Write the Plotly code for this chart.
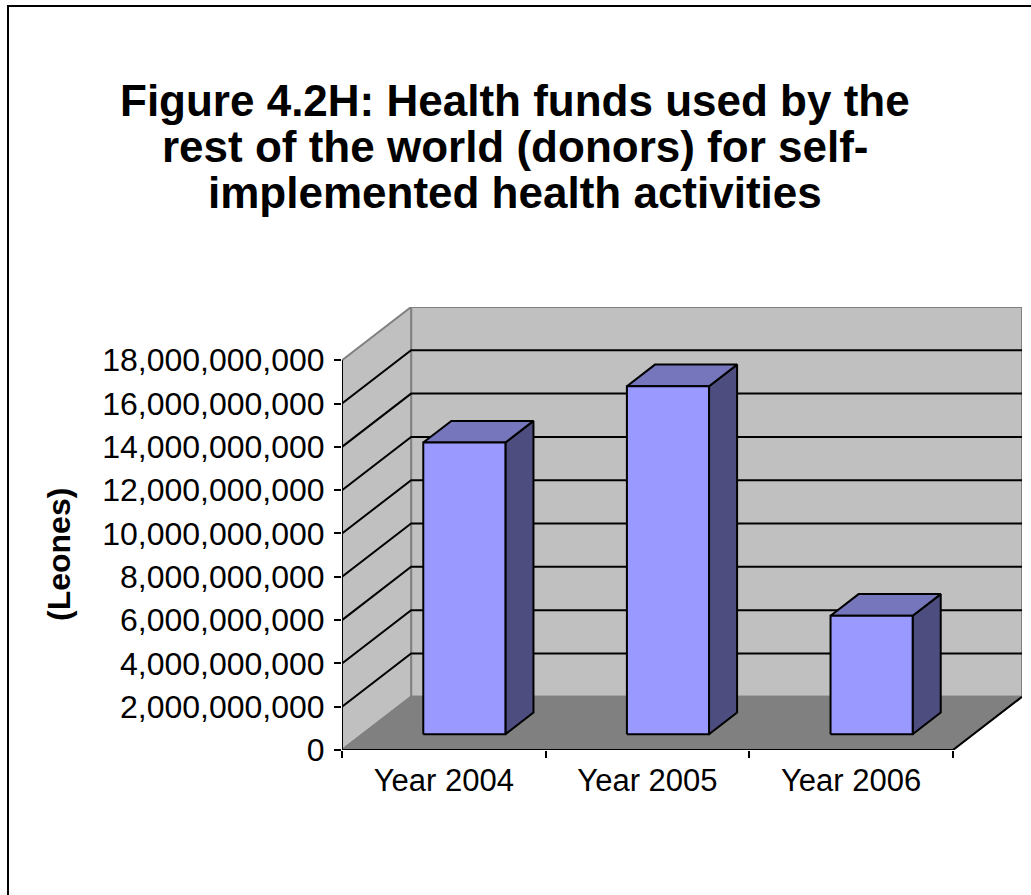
import plotly.graph_objects as go

# ---- data -------------------------------------------------------------
categories = ["Year 2004", "Year 2005", "Year 2006"]
funds_leones = [13.47e9, 16.07e9, 5.47e9]
tick_values = [i * 2e9 for i in range(10)]
tick_labels = [f"{v:,.0f}" for v in tick_values]

title_lines = [
    "Figure 4.2H: Health funds used by the",
    "rest of the world (donors) for self-",
    "implemented health activities",
]
y_title = "(Leones)"

# ---- 3-D box projection, expressed in axis units ---------------------
N = len(categories)
Y_TOP = tick_values[-1]
DX = 0.3394          # depth shift along the category axis
DY = 2.46e9          # depth shift along the value axis
BAR_W = 0.4033       # bar width (fraction of a category slot)
BAR_FRONT = 0.297    # depth fraction where the bar's front face sits
BAR_DEPTH = 0.406    # depth fraction occupied by the bar

FONT = "Liberation Sans, Arial, sans-serif"
WALL = "#C0C0C0"
FLOOR = "#808080"
EDGE = "#808080"
FRONT_C = "#9999FF"
TOP_C = "#7676BC"
SIDE_C = "#4D4D80"


def poly(xs, ys, fill, line, width):
    return go.Scatter(
        x=list(xs) + [xs[0]], y=list(ys) + [ys[0]],
        mode="lines", fill="toself", fillcolor=fill,
        line=dict(color=line, width=width),
        hoverinfo="skip", showlegend=False,
    )


def path(xs, ys, color, width):
    return go.Scatter(
        x=xs, y=ys, mode="lines", line=dict(color=color, width=width),
        hoverinfo="skip", showlegend=False,
    )


traces = []
# back wall, side wall, floor
traces.append(poly([DX, N + DX, N + DX, DX], [DY, DY, Y_TOP + DY, Y_TOP + DY], WALL, EDGE, 2))
traces.append(poly([0, DX, DX, 0], [0, DY, Y_TOP + DY, Y_TOP], WALL, EDGE, 2))
traces.append(poly([0, N, N + DX, DX], [0, 0, DY, DY], FLOOR, EDGE, 2))

# gridlines running across side wall and back wall
gx, gy = [], []
for v in tick_values[1:-1]:
    gx += [0, DX, N + DX, None]
    gy += [v, v + DY, v + DY, None]
traces.append(path(gx, gy, "black", 2))

# value axis line and front/right edges of the floor
traces.append(path([0, 0], [0, Y_TOP], "black", 2))
traces.append(path([0, N, N + DX], [0, 0, DY], "black", 2))

# bars
bx, by = BAR_DEPTH * DX, BAR_DEPTH * DY
for i, v in enumerate(funds_leones):
    x0 = i + 0.5 - BAR_W / 2 + BAR_FRONT * DX
    x1 = x0 + BAR_W
    yb = BAR_FRONT * DY
    traces.append(poly([x1, x1 + bx, x1 + bx, x1],
                       [yb, yb + by, yb + v + by, yb + v], SIDE_C, "black", 2))
    traces.append(poly([x0, x1, x1 + bx, x0 + bx],
                       [yb + v, yb + v, yb + v + by, yb + v + by], TOP_C, "black", 2))
    traces.append(poly([x0, x1, x1, x0],
                       [yb, yb, yb + v, yb + v], FRONT_C, "black", 2))

fig = go.Figure(traces)

W, H = 1031, 895
ML, MR, MT, MB = 342, 9, 307, 145
PW, PH = W - ML - MR, H - MT - MB


def px_to_paper(px, py):
    return (px - ML) / PW, (H - MB - py) / PH


annotations = []
for line, py in zip(title_lines, [100, 146, 192]):
    ax, ay = px_to_paper(515, py)
    annotations.append(dict(
        text=f"<b>{line}</b>", xref="paper", yref="paper", x=ax, y=ay,
        xanchor="center", yanchor="middle", showarrow=False,
        font=dict(family=FONT, size=44, color="black"),
    ))
ax, ay = px_to_paper(59, 555)
annotations.append(dict(
    text=f"<b>{y_title}</b>", xref="paper", yref="paper", x=ax, y=ay,
    xanchor="center", yanchor="middle", showarrow=False, textangle=-90,
    font=dict(family=FONT, size=32, color="black"),
))

bx0, by0 = px_to_paper(8, 6)
bx1, by1 = px_to_paper(1060, 920)

fig.update_layout(
    width=W, height=H, autosize=False,
    margin=dict(l=ML, r=MR, t=MT, b=MB, pad=0),
    paper_bgcolor="white", plot_bgcolor="rgba(0,0,0,0)",
    annotations=annotations,
    shapes=[dict(type="rect", xref="paper", yref="paper",
                 x0=bx0, y0=by0, x1=bx1, y1=by1,
                 line=dict(color="black", width=2), layer="below")],
    xaxis=dict(
        range=[0, N + DX], showgrid=False, zeroline=False, showline=False,
        tickmode="array", tickvals=[i + 0.5 for i in range(N)], ticktext=categories,
        ticks="", tickfont=dict(family=FONT, size=31, color="black"),
        ticklabelstandoff=9,
        minor=dict(tickmode="linear", tick0=0, dtick=1, ticks="outside",
                   ticklen=7, tickwidth=2, tickcolor="black", showgrid=False),
        fixedrange=True,
    ),
    yaxis=dict(
        range=[0, Y_TOP + DY], showgrid=False, zeroline=False, showline=False,
        tickmode="array", tickvals=tick_values, ticktext=tick_labels,
        ticks="outside", ticklen=7, tickwidth=2, tickcolor="black",
        tickfont=dict(family=FONT, size=32, color="black"),
        ticklabelstandoff=3,
        fixedrange=True,
    ),
)

fig.write_html("out.html", config={"displayModeBar": False})
